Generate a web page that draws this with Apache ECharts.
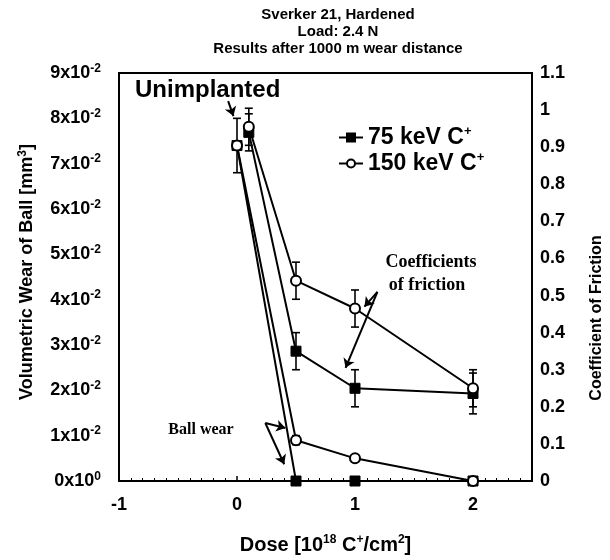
<!DOCTYPE html>
<html><head><meta charset="utf-8">
<script src="https://cdn.jsdelivr.net/npm/echarts@6/dist/echarts.min.js"></script>
<style>html,body{margin:0;padding:0;background:#fff}#c{width:610px;height:560px}</style>
</head><body><div id="c"></div>
<script>
// ---- data ----
const wearDose = [0, 0.5, 1, 2];
const wear75 = [0.074, 0, 0, 0];
const wear150 = [0.074, 0.009, 0.005, 0];
const wear150Err = [0.006, 0.001, 0, 0];
const fricDose = [0.1, 0.5, 1, 2];
const fric75 = [0.94, 0.35, 0.25, 0.236];
const fric150 = [0.955, 0.54, 0.465, 0.25];
const fric75Err = [0.05, 0.05, 0.05, 0.055];
const fric150Err = [0.05, 0.05, 0.05, 0.05];
const seriesNames = ['75 keV C+', '150 keV C+'];
const titleLines = ['Sverker 21, Hardened', 'Load: 2.4 N', 'Results after 1000 m wear distance'];

// annotation arrows (data coordinates)
const wearArrows = [[[0.24, 0.0128], [0.41, 0.0117]], [[0.24, 0.0128], [0.40, 0.0037]], [[-0.075, 0.0838], [-0.03, 0.0805]]];
const fricArrows = [[[1.19, 0.51], [1.08, 0.47]], [[1.19, 0.51], [0.92, 0.305]]];

const pairs = (xs, ys) => xs.map((x, i) => [x, ys[i]]);
const errData = (xs, ys, es) => xs.map((x, i) => [x, ys[i] - es[i], ys[i] + es[i]]).filter(d => d[2] > d[1]);

const errRender = (params, api) => {
  const x = api.value(0), lo = api.value(1), hi = api.value(2);
  const p1 = api.coord([x, lo]), p2 = api.coord([x, hi]);
  const w = 4, st = {stroke: '#000', lineWidth: 1.6};
  return {type: 'group', children: [
    {type: 'line', shape: {x1: p1[0], y1: p1[1], x2: p2[0], y2: p2[1]}, style: st},
    {type: 'line', shape: {x1: p1[0] - w, y1: p1[1], x2: p1[0] + w, y2: p1[1]}, style: st},
    {type: 'line', shape: {x1: p2[0] - w, y1: p2[1], x2: p2[0] + w, y2: p2[1]}, style: st}
  ]};
};

const FONT = '"Liberation Sans", Arial, sans-serif';
const SERIF = '"Liberation Serif", "Times New Roman", serif';
const supRich = (size, base) => ({
  a: {fontSize: base, fontFamily: FONT, fontWeight: 'bold', color: '#000'},
  s: {fontSize: size, fontFamily: FONT, fontWeight: 'bold', color: '#000', padding: [0, 0, Math.round(base * 0.5), 0]}
});

const lineStyle = {color: '#000', width: 2};
const sq = {symbol: 'rect', symbolSize: 10, itemStyle: {color: '#000', borderColor: '#000', borderWidth: 1}};
const ci = {symbol: 'circle', symbolSize: 10, itemStyle: {color: '#fff', borderColor: '#000', borderWidth: 2}};
const arrowML = (arr) => ({
  silent: true, symbol: ['none', 'arrow'], symbolSize: 9, animation: false,
  label: {show: false}, emphasis: {disabled: true},
  lineStyle: {color: '#000', type: 'solid', width: 2},
  data: arr.map(a => [{coord: a[0]}, {coord: a[1]}])
});

const chart = echarts.init(document.getElementById('c'));
chart.setOption({
  animation: false,
  backgroundColor: '#fff',
  grid: {left: 119, right: 78, top: 73, bottom: 73, show: true, borderColor: '#000', borderWidth: 2},
  legend: {
    orient: 'vertical', left: 333, top: 120, itemWidth: 24, itemHeight: 10, itemGap: 2,
    data: seriesNames, selectedMode: false,
    formatter: n => '{a|' + n.replace('+', '') + '}{s|+}',
    textStyle: {rich: supRich(13, 23)}
  },
  xAxis: {
    type: 'value', min: -1, max: 2.5, interval: 1,
    name: '{a|Dose [10}{s|18}{a| C}{s|+}{a|/cm}{s|2}{a|]}', nameLocation: 'middle', nameGap: 53,
    nameTextStyle: {rich: supRich(12, 20)},
    axisLine: {onZero: false, lineStyle: {color: '#000', width: 2}},
    axisTick: {show: true, inside: true, length: 5, lineStyle: {color: '#000', width: 1.5}},
    minorTick: {show: true, splitNumber: 10, length: 3, lineStyle: {color: '#000', width: 1}},
    splitLine: {show: false},
    axisLabel: {color: '#000', fontFamily: FONT, fontWeight: 'bold', fontSize: 18, margin: 15,
      showMaxLabel: false, formatter: v => Number.isInteger(v) ? String(v) : ''}
  },
  yAxis: [{
    type: 'value', min: 0, max: 0.09, interval: 0.01, position: 'left',
    axisLine: {show: true, onZero: false, lineStyle: {color: '#000', width: 2}},
    axisTick: {show: false}, splitLine: {show: false},
    axisLabel: {margin: 18, formatter: v => {
      const k = Math.round(v * 100);
      return '{a|' + k + 'x10}{s|' + (k === 0 ? '0' : '-2') + '}';
    }, rich: supRich(12, 18)}
  }, {
    type: 'value', min: 0, max: 1.1, interval: 0.1, position: 'right',
    axisLine: {show: true, onZero: false, lineStyle: {color: '#000', width: 2}},
    axisTick: {show: false}, splitLine: {show: false},
    axisLabel: {margin: 8, color: '#000', fontFamily: FONT, fontWeight: 'bold', fontSize: 18,
      formatter: v => String(Math.round(v * 10) / 10)}
  }],
  series: [
    {type: 'custom', renderItem: errRender, yAxisIndex: 0, encode: {x: 0, y: [1, 2]}, data: errData(wearDose, wear150, wear150Err), z: 1, silent: true},
    {type: 'custom', renderItem: errRender, yAxisIndex: 1, encode: {x: 0, y: [1, 2]}, data: errData(fricDose, fric75, fric75Err), z: 1, silent: true},
    {type: 'custom', renderItem: errRender, yAxisIndex: 1, encode: {x: 0, y: [1, 2]}, data: errData(fricDose, fric150, fric150Err), z: 1, silent: true},
    Object.assign({name: seriesNames[0], type: 'line', yAxisIndex: 0, data: pairs(wearDose, wear75), lineStyle, z: 3, markLine: arrowML(wearArrows)}, sq),
    Object.assign({name: seriesNames[1], type: 'line', yAxisIndex: 0, data: pairs(wearDose, wear150), lineStyle, z: 4}, ci),
    Object.assign({name: seriesNames[0], type: 'line', yAxisIndex: 1, data: pairs(fricDose, fric75), lineStyle, z: 3, markLine: arrowML(fricArrows)}, sq),
    Object.assign({name: seriesNames[1], type: 'line', yAxisIndex: 1, data: pairs(fricDose, fric150), lineStyle, z: 4}, ci)
  ],
  graphic: [
    {type: 'text', x: 338, y: 6, style: {text: titleLines.join('\n'), font: 'bold 15px ' + FONT, lineHeight: 17, fill: '#000', align: 'center', verticalAlign: 'top'}},
    {type: 'text', x: 27, y: 272, rotation: Math.PI / 2, style: {text: '{a|Volumetric Wear of Ball [mm}{s|3}{a|]}', rich: supRich(12, 18), align: 'center', verticalAlign: 'middle'}},
    {type: 'text', x: 597, y: 318, rotation: Math.PI / 2, style: {text: 'Coefficient of Friction', font: 'bold 16px ' + FONT, fill: '#000', align: 'center', verticalAlign: 'middle'}},
    {type: 'text', left: 135, top: 78, style: {text: 'Unimplanted', font: 'bold 24px ' + FONT, fill: '#000'}},
    {type: 'text', x: 431, y: 262, style: {text: 'Coefficients', font: 'bold 18px ' + SERIF, fill: '#000', align: 'center', verticalAlign: 'middle'}},
    {type: 'text', x: 427, y: 285, style: {text: 'of friction', font: 'bold 18px ' + SERIF, fill: '#000', align: 'center', verticalAlign: 'middle'}},
    {type: 'text', x: 201, y: 430, style: {text: 'Ball wear', font: 'bold 16px ' + SERIF, fill: '#000', align: 'center', verticalAlign: 'middle'}}
  ]
});
</script></body></html>
